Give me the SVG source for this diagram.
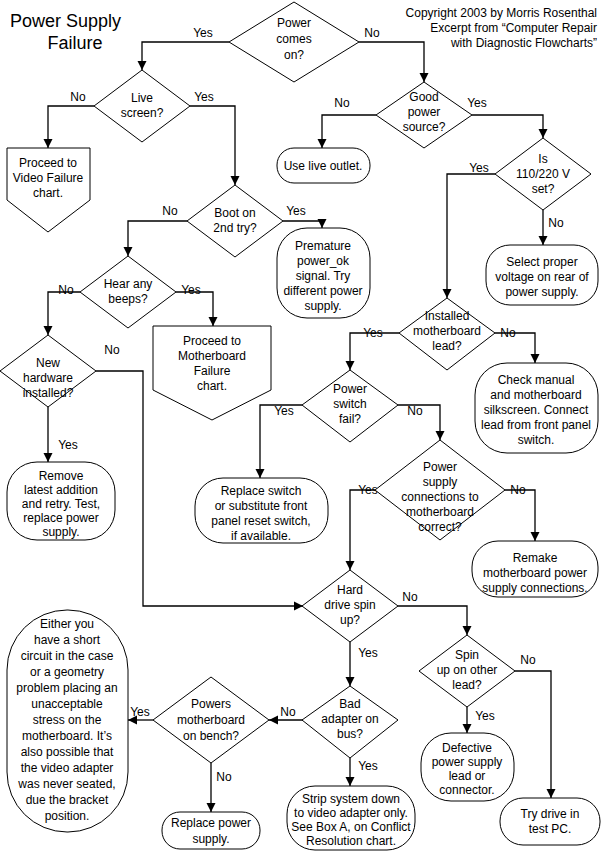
<svg xmlns="http://www.w3.org/2000/svg" width="602" height="863" viewBox="0 0 602 863">
<defs><marker id="a" viewBox="0 0 10 10" refX="10" refY="5" markerWidth="7" markerHeight="7" orient="auto"><path d="M0,0L10,5L0,10z" fill="#000"/></marker></defs>
<style>
text{font-family:"Liberation Sans",Arial,sans-serif;font-size:12px;fill:#000}
.c{text-anchor:middle}
.s{fill:#fff;stroke:#000;stroke-width:1}
.l{fill:none;stroke:#000;stroke-width:1.3;marker-end:url(#a)}
</style>
<rect width="602" height="863" fill="#fff"/>
<text x="10" y="27" style="font-size:18px">Power Supply</text>
<text x="75" y="49" class="c" style="font-size:18px">Failure</text>
<text x="597" y="17" text-anchor="end">Copyright 2003 by Morris Rosenthal</text>
<text x="597" y="32" text-anchor="end">Excerpt from “Computer Repair</text>
<text x="597" y="47" text-anchor="end">with Diagnostic Flowcharts”</text>
<g id="connectors">
<path class="l" d="M229,42H142V70"/><path class="l" d="M359,42H424V82"/>
<path class="l" d="M94,106H48V148"/><path class="l" d="M190,106H235V185"/>
<path class="l" d="M376,115H322V148"/><path class="l" d="M472,115H543V138"/>
<path class="l" d="M495,174H447V298"/><path class="l" d="M543,210V245"/>
<path class="l" d="M187,221H128V256"/><path class="l" d="M283,221H322V228"/>
<path class="l" d="M80,292H48V335"/><path class="l" d="M176,292H213V326"/>
<path class="l" d="M96,371H143V606H303"/><path class="l" d="M48,407V462"/>
<path class="l" d="M399,333H350V370"/><path class="l" d="M495,333H535V363"/>
<path class="l" d="M302,405H260V478"/><path class="l" d="M398,405H440V440"/>
<path class="l" d="M375,490H350V570"/><path class="l" d="M505,490H535V541"/>
<path class="l" d="M350,642V686"/><path class="l" d="M398,606H467V635"/>
<path class="l" d="M467,707V733"/><path class="l" d="M515,671H551V798"/>
<path class="l" d="M303,720H269"/><path class="l" d="M350,758V786"/>
<path class="l" d="M153,720H128"/><path class="l" d="M211,763V812"/>
</g>
<g id="labels">
<text x="203" y="37" class="c">Yes</text><text x="372" y="37" class="c">No</text>
<text x="78" y="101" class="c">No</text><text x="204" y="101" class="c">Yes</text>
<text x="342" y="107" class="c">No</text><text x="477" y="107" class="c">Yes</text>
<text x="479" y="172" class="c">Yes</text><text x="556" y="227" class="c">No</text>
<text x="170" y="215" class="c">No</text><text x="296" y="215" class="c">Yes</text>
<text x="66" y="294" class="c">No</text><text x="191" y="294" class="c">Yes</text>
<text x="112" y="354" class="c">No</text><text x="68" y="449" class="c">Yes</text>
<text x="373" y="337" class="c">Yes</text><text x="508" y="337" class="c">No</text>
<text x="284" y="415" class="c">Yes</text><text x="415" y="415" class="c">No</text>
<text x="368" y="494" class="c">Yes</text><text x="518" y="494" class="c">No</text>
<text x="410" y="601" class="c">No</text><text x="368" y="657" class="c">Yes</text>
<text x="485" y="720" class="c">Yes</text><text x="528" y="664" class="c">No</text>
<text x="288" y="716" class="c">No</text><text x="368" y="770" class="c">Yes</text>
<text x="140" y="716" class="c">Yes</text><text x="224" y="781" class="c">No</text>
</g>
<g id="d1"><path class="s" d="M294,2L359,42L294,82L229,42z"/><text class="c" x="294" y="27">Power</text><text class="c" x="294" y="43">comes</text><text class="c" x="294" y="59">on?</text></g>
<g id="d2"><path class="s" d="M142,70L190,106L142,142L94,106z"/><text class="c" x="142" y="102">Live</text><text class="c" x="142" y="117">screen?</text></g>
<g id="n1"><path class="s" d="M7,148H90V200L48,232L7,200z"/><text class="c" x="48" y="167">Proceed to</text><text class="c" x="48" y="182">Video Failure</text><text class="c" x="48" y="197">chart.</text></g>
<g id="d3"><path class="s" d="M424,82L472,115L424,148L376,115z"/><text class="c" x="424" y="101">Good</text><text class="c" x="424" y="116">power</text><text class="c" x="424" y="131">source?</text></g>
<g id="n2"><rect class="s" x="277" y="148" width="93" height="35" rx="17"/><text class="c" x="323" y="170">Use live outlet.</text></g>
<g id="d4"><path class="s" d="M543,138L591,174L543,210L495,174z"/><text class="c" x="543" y="163">Is</text><text class="c" x="543" y="178">110/220 V</text><text class="c" x="543" y="193">set?</text></g>
<g id="n3"><rect class="s" x="486" y="245" width="112" height="60" rx="24"/><text class="c" x="542" y="266">Select proper</text><text class="c" x="542" y="281">voltage on rear of</text><text class="c" x="542" y="296">power supply.</text></g>
<g id="d5"><path class="s" d="M235,185L283,221L235,257L187,221z"/><text class="c" x="235" y="217">Boot on</text><text class="c" x="235" y="232">2nd try?</text></g>
<g id="n4"><rect class="s" x="277" y="228" width="93" height="90" rx="30"/><text class="c" x="323" y="250">Premature</text><text class="c" x="323" y="265">power_ok</text><text class="c" x="323" y="280">signal. Try</text><text class="c" x="323" y="295">different power</text><text class="c" x="323" y="310">supply.</text></g>
<g id="d6"><path class="s" d="M128,256L176,292L128,328L80,292z"/><text class="c" x="128" y="288">Hear any</text><text class="c" x="128" y="303">beeps?</text></g>
<g id="n5"><path class="s" d="M153,326H271V390L212,420L153,390z"/><text class="c" x="212" y="345">Proceed to</text><text class="c" x="212" y="360">Motherboard</text><text class="c" x="212" y="375">Failure</text><text class="c" x="212" y="390">chart.</text></g>
<g id="d7"><path class="s" d="M48,335L96,371L48,407L0,371z"/><text class="c" x="48" y="367">New</text><text class="c" x="48" y="382">hardware</text><text class="c" x="48" y="397">installed?</text></g>
<g id="n6"><rect class="s" x="7" y="462" width="108" height="78" rx="30"/><text class="c" x="61" y="480">Remove</text><text class="c" x="61" y="494">latest addition</text><text class="c" x="61" y="508">and retry. Test,</text><text class="c" x="61" y="522">replace power</text><text class="c" x="61" y="536">supply.</text></g>
<g id="d8"><path class="s" d="M447,298L495,333L447,370L399,333z"/><text class="c" x="447" y="320">Installed</text><text class="c" x="447" y="335">motherboard</text><text class="c" x="447" y="350">lead?</text></g>
<g id="n7"><rect class="s" x="475" y="363" width="123" height="90" rx="32"/><text class="c" x="536" y="384">Check manual</text><text class="c" x="536" y="399">and motherboard</text><text class="c" x="536" y="414">silkscreen. Connect</text><text class="c" x="536" y="429">lead from front panel</text><text class="c" x="536" y="444">switch.</text></g>
<g id="d9"><path class="s" d="M350,370L398,405L350,442L302,405z"/><text class="c" x="350" y="393">Power</text><text class="c" x="350" y="408">switch</text><text class="c" x="350" y="423">fail?</text></g>
<g id="n8"><rect class="s" x="195" y="478" width="133" height="65" rx="28"/><text class="c" x="261" y="495">Replace switch</text><text class="c" x="261" y="510">or substitute front</text><text class="c" x="261" y="525">panel reset switch,</text><text class="c" x="261" y="540">if available.</text></g>
<g id="d10"><path class="s" d="M440,440L505,490L440,540L375,490z"/><text class="c" x="440" y="471">Power</text><text class="c" x="440" y="486">supply</text><text class="c" x="440" y="501">connections to</text><text class="c" x="440" y="516">motherboard</text><text class="c" x="440" y="531">correct?</text></g>
<g id="n9"><rect class="s" x="472" y="541" width="126" height="56" rx="26"/><text class="c" x="535" y="562">Remake</text><text class="c" x="535" y="577">motherboard power</text><text class="c" x="535" y="592">supply connections.</text></g>
<g id="d11"><path class="s" d="M350,570L398,606L350,642L302,606z"/><text class="c" x="350" y="594">Hard</text><text class="c" x="350" y="609">drive spin</text><text class="c" x="350" y="624">up?</text></g>
<g id="d12"><path class="s" d="M467,635L515,671L467,707L419,671z"/><text class="c" x="467" y="659">Spin</text><text class="c" x="467" y="674">up on other</text><text class="c" x="467" y="689">lead?</text></g>
<g id="n10"><rect class="s" x="421" y="733" width="93" height="68" rx="30"/><text class="c" x="467" y="752">Defective</text><text class="c" x="467" y="766">power supply</text><text class="c" x="467" y="780">lead or</text><text class="c" x="467" y="794">connector.</text></g>
<g id="n11"><rect class="s" x="500" y="798" width="100" height="47" rx="23"/><text class="c" x="550" y="818">Try drive in</text><text class="c" x="550" y="833">test PC.</text></g>
<g id="d13"><path class="s" d="M350,686L398,720L350,758L302,720z"/><text class="c" x="350" y="708">Bad</text><text class="c" x="350" y="723">adapter on</text><text class="c" x="350" y="738">bus?</text></g>
<g id="n12"><rect class="s" x="287" y="786" width="128" height="64" rx="28"/><text class="c" x="351" y="803">Strip system down</text><text class="c" x="351" y="817">to video adapter only.</text><text class="c" x="351" y="831">See Box A, on Conflict</text><text class="c" x="351" y="845">Resolution chart.</text></g>
<g id="d14"><path class="s" d="M211,677L269,720L211,763L153,720z"/><text class="c" x="211" y="708">Powers</text><text class="c" x="211" y="724">motherboard</text><text class="c" x="211" y="740">on bench?</text></g>
<g id="n13"><rect class="s" x="162" y="812" width="98" height="37" rx="18"/><text class="c" x="211" y="827">Replace power</text><text class="c" x="211" y="843">supply.</text></g>
<g id="n14"><rect class="s" x="7" y="610" width="121" height="222" rx="60" ry="60"/><text class="c" x="67" y="628">Either you</text><text class="c" x="67" y="644">have a short</text><text class="c" x="67" y="660">circuit in the case</text><text class="c" x="67" y="676">or a geometry</text><text class="c" x="67" y="692">problem placing an</text><text class="c" x="67" y="708">unacceptable</text><text class="c" x="67" y="724">stress on the</text><text class="c" x="67" y="740">motherboard. It’s</text><text class="c" x="67" y="756">also possible that</text><text class="c" x="67" y="772">the video adapter</text><text class="c" x="67" y="788">was never seated,</text><text class="c" x="67" y="804">due the bracket</text><text class="c" x="67" y="820">position.</text></g>
</svg>
